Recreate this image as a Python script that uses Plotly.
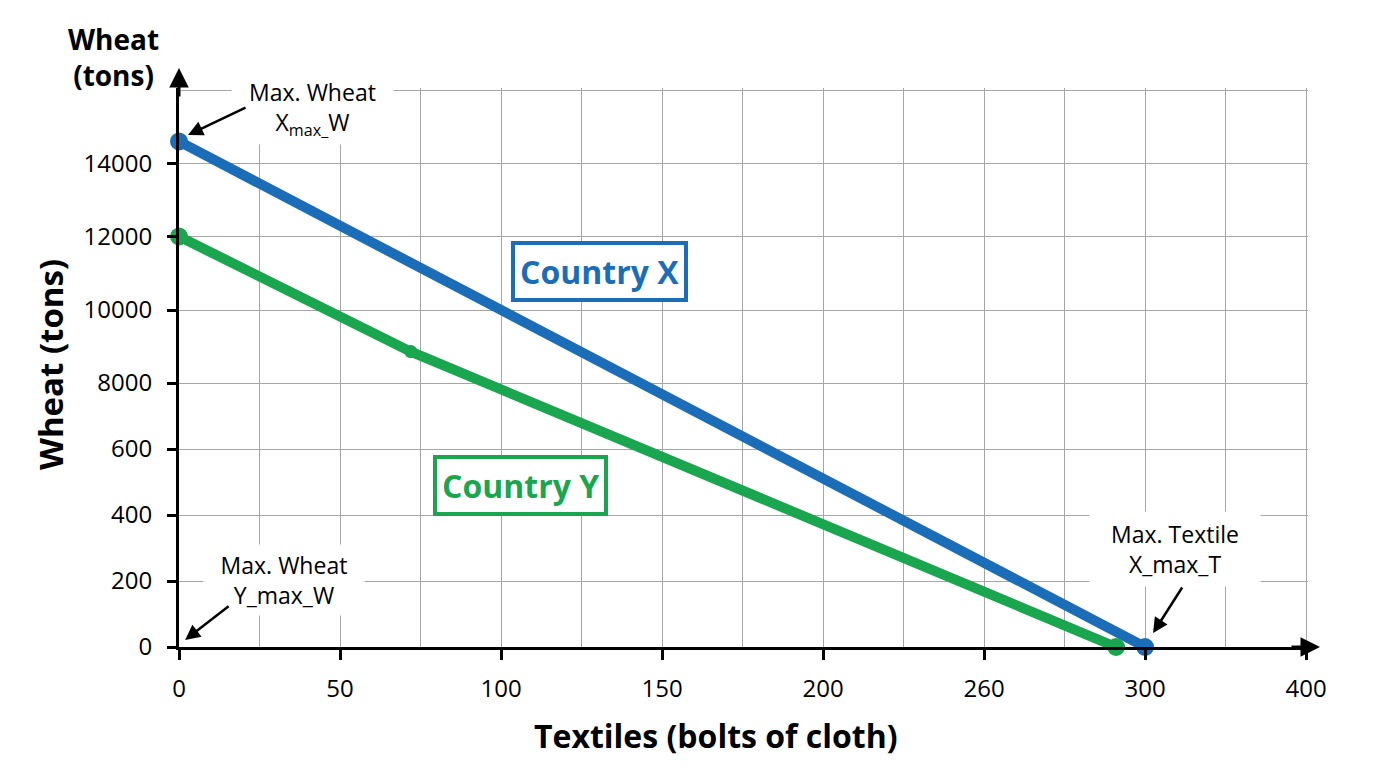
import numpy as np
import plotly.graph_objects as go

# ---- data ----
x_country_x = [0, 300]
y_country_x = [14600, 0]
x_country_y = [0, 72, 291]
y_country_y = [12000, 8860, 0]

x_tick_vals = [0, 50, 100, 150, 200, 250, 300, 350]
x_tick_text = ["0", "50", "100", "150", "200", "260", "300", "400"]
x_minor_vals = [25, 75, 125, 175, 225, 275, 325]

y_tick_text = ["0", "200", "400", "600", "8000", "10000", "12000", "14000"]
y_tick_values = [0, 200, 400, 600, 8000, 10000, 12000, 14000, 16000]
# axis position of each labelled value (the printed axis is not evenly scaled)
y_tick_axis_pos = [0, 66, 132, 198, 264, 337, 410.5, 483.5, 557]


def to_axis(v):
    return np.interp(v, y_tick_values, y_tick_axis_pos)


BLUE = "#1c6db8"
GREEN = "#1aa64e"
FONT = "Open Sans"
GRID = "#a6a6a6"

fig = go.Figure()
fig.add_trace(go.Scatter(
    x=x_country_x, y=to_axis(y_country_x), mode="lines+markers",
    line=dict(color=BLUE, width=10),
    marker=dict(color=BLUE, size=18, opacity=1, line=dict(width=0)),
    showlegend=False, cliponaxis=False, hoverinfo="skip"))
fig.add_trace(go.Scatter(
    x=x_country_y, y=to_axis(y_country_y), mode="lines+markers",
    line=dict(color=GREEN, width=10),
    marker=dict(color=GREEN, size=[18, 13, 18], opacity=1, line=dict(width=0)),
    showlegend=False, cliponaxis=False, hoverinfo="skip"))

# page body has an 8px offset; reference pixel coords are converted below
OFF = 8
L, T = 179, 88
PW, PH = 1129, 559
W, H = 1376 - OFF, 768 - OFF


def px_x(p):
    return (p - L) / PW


def px_y(p):
    return (647 - p) / PH


ann = []
# axis titles
ann.append(dict(xref="paper", yref="paper", x=px_x(113), y=px_y(57),
                xanchor="center", yanchor="middle",
                text="<b>Wheat<br>(tons)</b>", showarrow=False,
                font=dict(family=FONT, size=28, color="black"), align="center"))
ann.append(dict(xref="paper", yref="paper", x=px_x(50), y=px_y(365),
                xanchor="center", yanchor="middle",
                text="<b>Wheat (tons)</b>", showarrow=False, textangle=-90,
                font=dict(family=FONT, size=33, color="black")))
ann.append(dict(xref="paper", yref="paper", x=px_x(716), y=px_y(735),
                xanchor="center", yanchor="middle",
                text="<b>Textiles (bolts of cloth)</b>", showarrow=False,
                font=dict(family=FONT, size=32, color="black")))
# axis arrowheads
ann.append(dict(xref="paper", yref="paper", x=0, y=px_y(68), ax=0, ay=30,
                text="", showarrow=True, arrowhead=2, arrowsize=1.3,
                arrowwidth=3, arrowcolor="black"))
ann.append(dict(xref="paper", yref="paper", x=px_x(1320), y=0, ax=-30, ay=0,
                text="", showarrow=True, arrowhead=2, arrowsize=1.3,
                arrowwidth=3, arrowcolor="black"))
# country labels
ann.append(dict(x=130.7, y=376, text="<b>Country X</b>", showarrow=False,
                font=dict(family=FONT, size=32, color=BLUE), bgcolor="white",
                bordercolor=BLUE, borderwidth=4, borderpad=5))
ann.append(dict(x=106, y=162, text="<b>Country Y</b>", showarrow=False,
                font=dict(family=FONT, size=32, color=GREEN), bgcolor="white",
                bordercolor=GREEN, borderwidth=4, borderpad=5))
# callouts
callout_font = dict(family=FONT, size=23, color="black")
ann.append(dict(x=41.6, y=539, text="Max. Wheat<br>X<sub>max_</sub>W", showarrow=False,
                font=callout_font, bgcolor="white", width=155, borderpad=3))
ann.append(dict(x=32.6, y=67, text="Max. Wheat<br>Y_max_W", showarrow=False,
                font=callout_font, bgcolor="white", width=152, borderpad=4))
ann.append(dict(x=309.3, y=98, text="Max. Textile<br>X_max_T", showarrow=False,
                font=callout_font, bgcolor="white", width=158, borderpad=6))
# callout arrows
for hx, hy, ax_, ay_ in [(2.8, 512, 59, -28), (1.9, 7, 45, -35), (302.5, 14, 30, -47)]:
    ann.append(dict(x=hx, y=hy, ax=ax_, ay=ay_, text="", showarrow=True,
                    arrowhead=2, arrowsize=1.2, arrowwidth=2.5, arrowcolor="black"))

fig.update_layout(
    width=W, height=H,
    margin=dict(l=L - OFF, r=W - (L - OFF) - PW, t=T - OFF, b=H - (T - OFF) - PH),
    paper_bgcolor="white", plot_bgcolor="white",
    font=dict(family=FONT, size=24, color="black"),
    annotations=ann,
    xaxis=dict(
        range=[0, 350.6], tickmode="array", tickvals=x_tick_vals, ticktext=x_tick_text,
        showgrid=True, gridcolor=GRID, gridwidth=1, zeroline=False,
        showline=True, linecolor="black", linewidth=3,
        ticks="outside", ticklen=10, tickwidth=3, tickcolor="black",
        ticklabelstandoff=8, tickfont=dict(family=FONT, size=24, color="black"),
        minor=dict(tickmode="array", tickvals=x_minor_vals, showgrid=True,
                   gridcolor=GRID, gridwidth=1, ticks=""),
        fixedrange=True),
    yaxis=dict(
        range=[0, 559], tickmode="array", tickvals=y_tick_axis_pos[:-1], ticktext=y_tick_text,
        showgrid=True, gridcolor=GRID, gridwidth=1, zeroline=False,
        showline=True, linecolor="black", linewidth=3,
        ticks="outside", ticklen=9, tickwidth=3, tickcolor="black",
        ticklabelstandoff=10, tickfont=dict(family=FONT, size=24, color="black"),
        minor=dict(tickmode="array", tickvals=[y_tick_axis_pos[-1]], showgrid=True,
                   gridcolor=GRID, gridwidth=1, ticks=""),
        fixedrange=True),
)

fig.write_html("out.html")
